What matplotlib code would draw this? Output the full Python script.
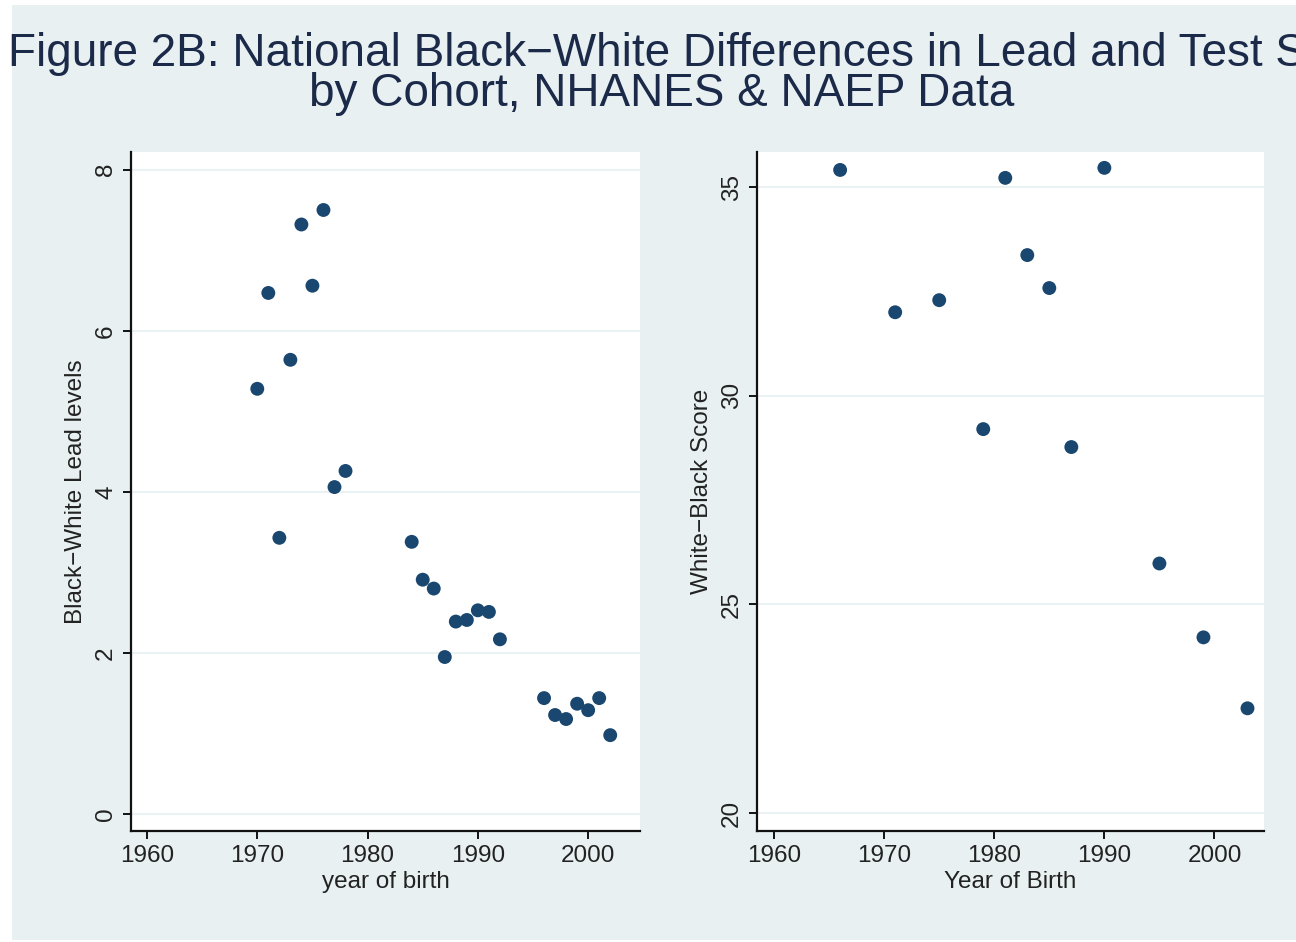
import matplotlib
matplotlib.use("Agg")
import matplotlib.pyplot as plt
from matplotlib.patches import Rectangle

plt.rcParams['font.family'] = ['Liberation Sans', 'DejaVu Sans']

lead_years = [1970, 1971, 1972, 1973, 1974, 1975, 1976, 1977, 1978,
              1984, 1985, 1986, 1987, 1988, 1989, 1990, 1991, 1992,
              1996, 1997, 1998, 1999, 2000, 2001, 2002]
lead_gap = [5.28, 6.47, 3.43, 5.64, 7.32, 6.56, 7.50, 4.06, 4.26,
            3.38, 2.91, 2.80, 1.95, 2.39, 2.41, 2.53, 2.51, 2.17,
            1.44, 1.23, 1.18, 1.37, 1.29, 1.44, 0.98]

score_years = [1966, 1971, 1975, 1979, 1981, 1983, 1985, 1987, 1990, 1995, 1999, 2003]
score_gap = [35.41, 32.0, 32.29, 29.2, 35.22, 33.37, 32.58, 28.77, 35.46, 25.98, 24.21, 22.51]

x_ticks = [1960, 1970, 1980, 1990, 2000]
lead_ticks = [0, 2, 4, 6, 8]
score_ticks = [20, 25, 30, 35]

title_line1 = "Figure 2B: National Black\u2212White Differences in Lead and Test Scores"
title_line2 = "by Cohort, NHANES & NAEP Data"

W, H = 1296, 942
fig = plt.figure(figsize=(W / 100, H / 100), dpi=100)
fig.patch.set_facecolor('white')
bg = '#e8f0f2'
fig.add_artist(Rectangle((12 / W, 1 - 940 / H), 1, (940 - 5) / H,
                         transform=fig.transFigure, facecolor=bg, edgecolor='none', zorder=-10))

navy = '#1a476f'
grid_c = '#eaf2f3'
txt_c = '#222222'

def px_axes(x0, y0, x1, y1):
    return fig.add_axes([x0 / W, 1 - y1 / H, (x1 - x0) / W, (y1 - y0) / H])

ax1 = px_axes(131, 152, 640, 831)
ax2 = px_axes(757, 152, 1264, 831)

def style(ax, xlim, ylim, yticks, xlabel, ylabel):
    ax.set_facecolor('white')
    ax.set_xlim(*xlim)
    ax.set_ylim(*ylim)
    ax.set_xticks(x_ticks)
    ax.set_yticks(yticks)
    for s in ['top', 'right']:
        ax.spines[s].set_visible(False)
    for s in ['left', 'bottom']:
        ax.spines[s].set_color('#111111')
        ax.spines[s].set_linewidth(1.6)
    ax.tick_params(axis='both', direction='out', length=6, width=1.4, color='#111111',
                   labelsize=17.5, labelcolor=txt_c, pad=4)
    for lab in ax.get_yticklabels():
        lab.set_rotation(90)
        lab.set_va('center')
    ax.grid(axis='y', color=grid_c, linewidth=1.5)
    ax.set_axisbelow(True)
    ax.set_xlabel(xlabel, fontsize=17.5, color=txt_c, labelpad=3)
    ax.set_ylabel(ylabel, fontsize=17.5, color=txt_c, labelpad=6)

ax1.scatter(lead_years, lead_gap, s=100, color=navy, edgecolors='none', zorder=3)
style(ax1, (1958.55, 2004.7), (-0.21, 8.22), lead_ticks, 'year of birth', 'Black\u2212White Lead levels')

ax2.scatter(score_years, score_gap, s=100, color=navy, edgecolors='none', zorder=3)
style(ax2, (1958.45, 2004.5), (19.57, 35.84), score_ticks, 'Year of Birth', 'White\u2212Black Score')

fig.text(8 / W, 1 - 66 / H, title_line1, ha='left', va='baseline', fontsize=33,
         color='#1c2a4a')
fig.text(662 / W, 1 - 106 / H, title_line2, ha='center', va='baseline', fontsize=33,
         color='#1c2a4a')

fig.savefig('out.png', dpi=100, facecolor=fig.get_facecolor())
